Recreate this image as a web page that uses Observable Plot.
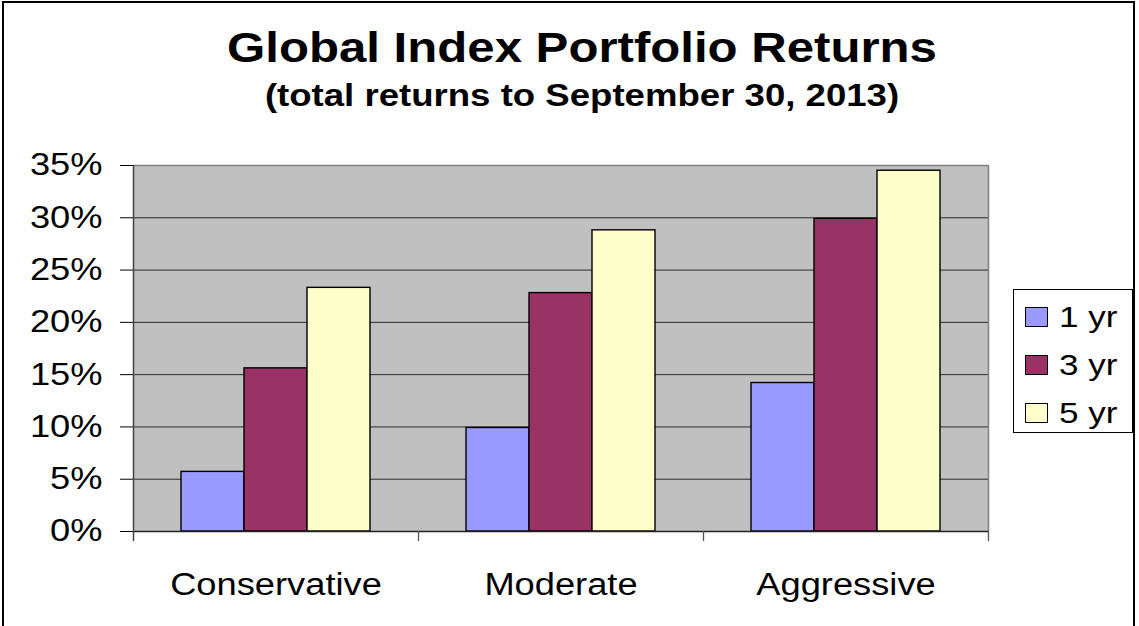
<!DOCTYPE html>
<html>
<head>
<meta charset="utf-8">
<script src="https://cdn.jsdelivr.net/npm/d3@7"></script>
<script src="https://cdn.jsdelivr.net/npm/@observablehq/plot@0.6"></script>
<style>
  html, body { margin: 0; padding: 0; background: #fff; }
  body { width: 1139px; height: 626px; overflow: hidden; font-family: "Liberation Sans", Arial, sans-serif; }
  #wrap { position: absolute; left: 0; top: 0; width: 1139px; height: 626px; }
  #border { position: absolute; left: 2px; top: 1px; width: 1133px; height: 640px; border: 2px solid #000; box-sizing: border-box; }
  .title { position: absolute; left: 0; width: 1164px; text-align: center; font-weight: bold; color: #000; transform-origin: 582px 50%; white-space: nowrap; }
  #t1 { top: 27px; font-size: 42px; line-height: 42px; transform: scaleX(1.17); }
  #t2 { top: 80px; font-size: 31px; line-height: 31px; transform: scaleX(1.18); }
  #chart { position: absolute; left: 0; top: 140px; }
  #legend { position: absolute; left: 1013px; top: 289px; width: 120px; height: 144px; border: 1px solid #000; box-sizing: border-box; background: #fff; }
  .item { position: absolute; left: 11px; height: 30px; display: flex; align-items: center; }
  .sw { width: 23px; height: 20px; border: 1px solid #000; box-sizing: border-box; }
  .lab { margin-left: 11px; font-size: 30px; line-height: 30px; transform: scaleX(1.17); transform-origin: 0 50%; white-space: nowrap; }
</style>
</head>
<body>
<div id="wrap">
  <div id="border"></div>
  <div class="title" id="t1">Global Index Portfolio Returns</div>
  <div class="title" id="t2">(total returns to September 30, 2013)</div>
  <div id="chart"></div>
  <div id="legend"></div>
</div>
<script>
// ---- data ----
const categories = ["Conservative", "Moderate", "Aggressive"];
const series = ["1 yr", "3 yr", "5 yr"];
const oneYear = [5.7, 9.9, 14.2];
const threeYear = [15.6, 22.8, 29.9];
const fiveYear = [23.3, 28.8, 34.5];
const yTicks = [0, 5, 10, 15, 20, 25, 30, 35];
const seriesColors = ["#9999FF", "#993366", "#FFFFCC"];

const seriesValues = [oneYear, threeYear, fiveYear];
const data = categories.flatMap((c, i) =>
  series.map((s, j) => ({ category: c, series: s, value: seriesValues[j][i] }))
);

const FONT = '"Liberation Sans", Arial, sans-serif';
const chart = Plot.plot({
  width: 1139,
  height: 486,
  marginTop: 25,
  marginBottom: 95,
  marginLeft: 133,
  marginRight: 151,
  style: { fontFamily: FONT, fontSize: "31px", color: "#000", background: "transparent" },
  fx: { domain: categories, padding: 0, axis: "bottom", tickSize: 0, tickPadding: 41, label: null },
  x: { domain: series, paddingInner: 0, paddingOuter: 0.73, axis: null },
  y: { domain: [0, 35], ticks: yTicks, tickFormat: d => d + "%", tickSize: 13, tickPadding: 18, label: null },
  color: { domain: series, range: seriesColors },
  marks: [
    Plot.frame({ fill: "#C0C0C0", stroke: "none", shapeRendering: "crispEdges" }),
    Plot.ruleY(yTicks.filter(t => t > 0 && t < 35), { stroke: "#2a2a2a", strokeWidth: 1 }),
    Plot.barY(data, { fx: "category", x: "series", y: "value", fill: "series", stroke: "#000", strokeWidth: 1.4 })
  ]
});
document.getElementById("chart").appendChild(chart);

// axis lines, border and category-boundary ticks
const svg = d3.select(chart);
const ys = chart.scale("y");
const fxs = chart.scale("fx");
const y0 = ys.apply(0), yTop = ys.apply(35);
const [fx0, fx1] = fxs.range;
const step = (fx1 - fx0) / fxs.domain.length;

// one continuous plot-area background under the facets (hides any seam)
svg.insert("rect", ":first-child")
  .attr("x", fx0).attr("y", yTop).attr("width", fx1 - fx0).attr("height", y0 - yTop)
  .attr("fill", "#C0C0C0");

const g = svg.append("g").attr("fill", "none");
g.append("line").attr("x1", fx0).attr("x2", fx1).attr("y1", yTop + 0.5).attr("y2", yTop + 0.5).attr("stroke", "#808080").attr("stroke-width", 1.5);
g.append("line").attr("x1", fx1 + 0.5).attr("x2", fx1 + 0.5).attr("y1", yTop).attr("y2", y0).attr("stroke", "#808080").attr("stroke-width", 1.5);
g.append("line").attr("x1", fx0).attr("x2", fx1).attr("y1", y0 + 0.5).attr("y2", y0 + 0.5).attr("stroke", "#222").attr("stroke-width", 1.3);
g.append("line").attr("x1", fx0 + 0.5).attr("x2", fx0 + 0.5).attr("y1", yTop).attr("y2", y0 + 10).attr("stroke", "#444").attr("stroke-width", 1.5);
for (let i = 1; i <= fxs.domain.length; i++) {
  const xx = fx0 + i * step + 0.5;
  g.append("line").attr("x1", xx).attr("x2", xx).attr("y1", y0).attr("y2", y0 + 10).attr("stroke", "#555").attr("stroke-width", 1.3);
}

// horizontal stretch of the text, as in the reference
svg.selectAll("text").each(function () {
  if (this.querySelector("tspan")) return;
  const L = this.getComputedTextLength();
  this.setAttribute("textLength", (L * 1.17).toFixed(1));
  this.setAttribute("lengthAdjust", "spacingAndGlyphs");
});

// legend
const legend = document.getElementById("legend");
series.forEach((s, i) => {
  const item = document.createElement("div");
  item.className = "item";
  item.style.top = (12 + i * 48) + "px";
  const sw = document.createElement("div");
  sw.className = "sw";
  sw.style.background = seriesColors[i];
  const lab = document.createElement("span");
  lab.className = "lab";
  lab.textContent = s;
  item.appendChild(sw);
  item.appendChild(lab);
  legend.appendChild(item);
});
</script>
</body>
</html>
